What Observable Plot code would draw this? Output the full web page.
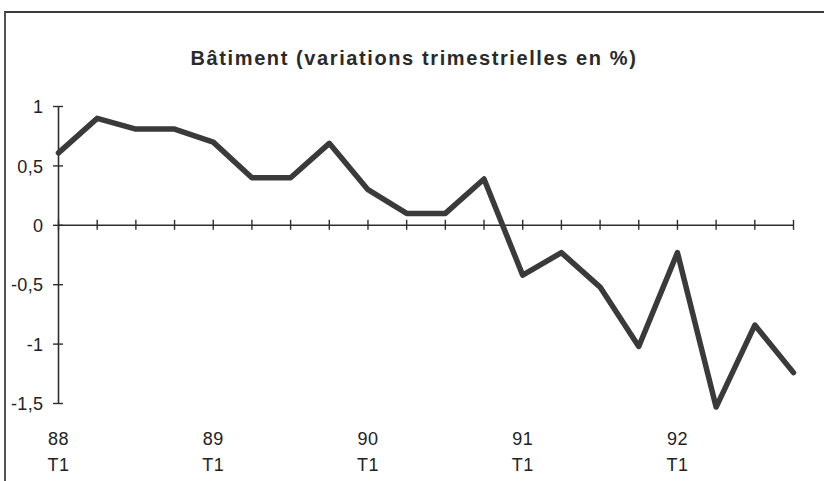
<!DOCTYPE html>
<html><head><meta charset="utf-8">
<script src="https://cdn.jsdelivr.net/npm/d3@7"></script>
<script src="https://cdn.jsdelivr.net/npm/@observablehq/plot@0.6"></script>
<style>
body{margin:0;background:#fff;}
#frame{position:absolute;left:4px;top:11px;width:840px;height:490px;border-top:2px solid #3a3a3a;border-left:2px solid #555;}
#chart{position:absolute;left:0;top:0;}
#chart text{letter-spacing:0.4px;}
#chart g.title text{letter-spacing:1.6px;}
</style>
</head><body>
<div id="frame"></div>
<div id="chart"></div>
<script>
const quarters = ["88 T1","88 T2","88 T3","88 T4","89 T1","89 T2","89 T3","89 T4","90 T1","90 T2","90 T3","90 T4","91 T1","91 T2","91 T3","91 T4","92 T1","92 T2","92 T3","92 T4"];
const values = [0.61,0.90,0.81,0.81,0.70,0.40,0.40,0.69,0.30,0.10,0.10,0.39,-0.42,-0.23,-0.52,-1.02,-0.23,-1.53,-0.84,-1.24];
const yTicks = [1,0.5,0,-0.5,-1,-1.5];
const yearLabels = ["88","89","90","91","92"];
const yearQuarter = "T1";
const title = "Bâtiment (variations trimestrielles en %)";

const data = quarters.map((q,i)=>({i, q, v: values[i]}));
const idx = quarters.map((q,i)=>i);
const yearTicks = yearLabels.map(y=>({i: quarters.indexOf(y+" "+yearQuarter), label: y+"\n"+yearQuarter}));
const fmt = d => String(d).replace(".", ",");
const ink = "#2e2e2e";

const chart = Plot.plot({
  width: 824, height: 481,
  marginLeft: 58, marginRight: 31, marginTop: 106, marginBottom: 78,
  style: {fontFamily: "'Liberation Sans', Arial, sans-serif", background: "transparent"},
  x: {domain: [0, quarters.length-1], axis: null},
  y: {domain: [-1.5, 1], axis: null},
  marks: [
    Plot.ruleY([0], {x1: 0, x2: quarters.length-1, stroke: ink, strokeWidth: 1.6}),
    Plot.ruleX(idx, {x: d=>d, y1: 0, y2: 0, insetTop: -5, insetBottom: -5, stroke: ink, strokeWidth: 1.4}),
    Plot.ruleX([0], {y1: -1.5, y2: 1, stroke: ink, strokeWidth: 1.6}),
    Plot.ruleY(yTicks, {y: d=>d, x1: 0, x2: 0, insetLeft: -5, insetRight: -5, stroke: ink, strokeWidth: 1.4}),
    Plot.text(yTicks, {x: 0, y: d=>d, text: fmt, textAnchor: "end", dx: -15, dy: 1, fontSize: 18, fill: "#222"}),
    Plot.line(data, {x: "i", y: "v", stroke: "#3a3a3a", strokeWidth: 5.5, strokeLinejoin: "round", strokeLinecap: "round"}),
    Plot.text(yearTicks, {x: "i", y: -1.5, text: "label", dy: 46, lineHeight: 1.45, fontSize: 18, fill: "#222"}),
    Plot.text([title], {frameAnchor: "top", dx: -12, dy: -56, fontSize: 20, fontWeight: "bold", fill: "#2a2a2a", className: "title"})
  ]
});
document.getElementById("chart").appendChild(chart);
</script>
</body></html>
